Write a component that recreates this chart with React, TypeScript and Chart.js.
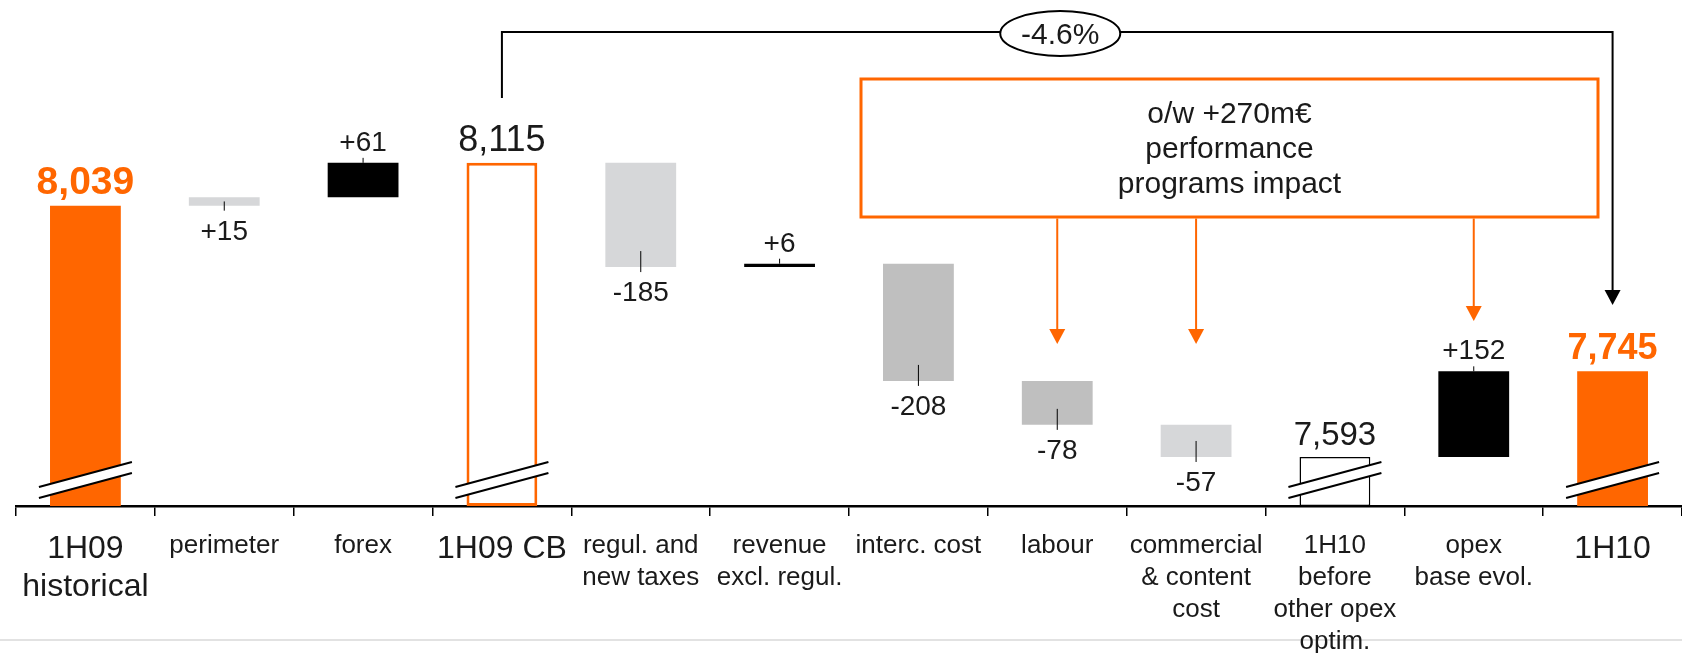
import React, { useEffect, useRef } from "react";
import { Chart, registerables } from "chart.js";

Chart.register(...registerables);

// ---------------- data ----------------
const categories: string[][] = [
  ["1H09", "historical"],
  ["perimeter"],
  ["forex"],
  ["1H09 CB"],
  ["regul. and", "new taxes"],
  ["revenue", "excl. regul."],
  ["interc. cost"],
  ["labour"],
  ["commercial", "& content", "cost"],
  ["1H10", "before", "other opex", "optim."],
  ["opex", "base evol."],
  ["1H10"],
];
const kinds: string[] = [
  "total", "delta", "delta", "total", "delta", "delta",
  "delta", "delta", "delta", "total", "delta", "total",
];
const values: number[] = [8039, 15, 61, 8115, -185, 6, -208, -78, -57, 7593, 152, 7745];
const labelSides: string[] = [
  "above", "below", "above", "above", "below", "above",
  "below", "below", "below", "above", "above", "above",
];
const brokenBars: number[] = [0, 3, 9, 11];
const programArrowTargets: number[] = [7, 8, 10];
const boxLines: string[] = ["o/w +270m€", "performance", "programs impact"];

// ---------------- styling ----------------
const ORANGE = "#FF6600";
const LIGHT = "#D6D7D9";
const MID = "#BFBFBF";
const TEXT = "#1a1a1a";
const FONT = '"Liberation Sans", Arial, Helvetica, sans-serif';
const Y_MIN = 7506;
const Y_MAX = 8404;

const fillColors = [ORANGE, LIGHT, "#000000", "#FFFFFF", LIGHT, "#000000", MID, MID, LIGHT, "#FFFFFF", "#000000", ORANGE];
const borderColors = [ORANGE, LIGHT, "#000000", ORANGE, LIGHT, "#000000", MID, MID, LIGHT, "#000000", "#000000", ORANGE];
const borderWidths = [0, 0, 0, 3, 0, 0, 0, 0, 0, 1.5, 0, 0];
const bigLabelIdx = [0, 3, 11];
const totalStyles: Record<number, { weight: string; size: number; color: string }> = {
  0: { weight: "bold", size: 39, color: ORANGE },
  3: { weight: "normal", size: 36, color: TEXT },
  9: { weight: "normal", size: 33, color: TEXT },
  11: { weight: "bold", size: 36, color: ORANGE },
};
const arrowTips: number[] = [344, 344, 321];

// floating ranges built from the values
const ranges: [number, number][] = [];
{
  let running = 0;
  values.forEach((v, i) => {
    if (kinds[i] === "total") {
      ranges.push([Y_MIN, v]);
      running = v;
    } else {
      const next = running + v;
      ranges.push([Math.min(running, next), Math.max(running, next)]);
      running = next;
    }
  });
}

const fmtTotal = (v: number) => v.toLocaleString("en-US");
const fmtDelta = (v: number) => (v > 0 ? "+" + v : String(v));

const decorPlugin = {
  id: "waterfallDecor",
  beforeDraw(chart: any) {
    const { ctx, width } = chart;
    ctx.save();
    ctx.fillStyle = "#E2E2E2";
    ctx.fillRect(0, 639, width, 2);
    ctx.restore();
  },
  afterDatasetsDraw(chart: any) {
    const ctx: CanvasRenderingContext2D = chart.ctx;
    const area = chart.chartArea;
    const meta = chart.getDatasetMeta(0);
    const geo = meta.data.map((el: any) => {
      const p = el.getProps(["x", "y", "base", "width"], true);
      return { x: p.x, top: Math.min(p.y, p.base), bottom: Math.max(p.y, p.base), w: p.width };
    });

    ctx.save();
    // axis break marks
    brokenBars.forEach((i) => {
      const cx = geo[i].x;
      const yb = area.bottom;
      const hw = 46.5;
      ctx.fillStyle = "#FFFFFF";
      ctx.beginPath();
      ctx.moveTo(cx - hw, yb - 19);
      ctx.lineTo(cx + hw, yb - 44);
      ctx.lineTo(cx + hw, yb - 33);
      ctx.lineTo(cx - hw, yb - 8);
      ctx.closePath();
      ctx.fill();
      ctx.strokeStyle = "#000";
      ctx.lineWidth = 2;
      ctx.beginPath();
      ctx.moveTo(cx - hw, yb - 19);
      ctx.lineTo(cx + hw, yb - 44);
      ctx.moveTo(cx - hw, yb - 8);
      ctx.lineTo(cx + hw, yb - 33);
      ctx.stroke();
    });

    // value labels
    ctx.textAlign = "center";
    ctx.textBaseline = "alphabetic";
    values.forEach((v, i) => {
      const g = geo[i];
      const isTotal = kinds[i] === "total";
      let text: string;
      if (isTotal) {
        const s = totalStyles[i];
        ctx.font = `${s.weight} ${s.size}px ${FONT}`;
        ctx.fillStyle = s.color;
        text = fmtTotal(v);
      } else {
        ctx.font = `normal 28px ${FONT}`;
        ctx.fillStyle = TEXT;
        text = fmtDelta(v);
      }
      ctx.strokeStyle = "#000";
      ctx.lineWidth = 1;
      if (labelSides[i] === "above") {
        if (!isTotal) {
          ctx.beginPath();
          ctx.moveTo(g.x, g.top - 5);
          ctx.lineTo(g.x, g.top);
          ctx.stroke();
        }
        ctx.fillText(text, g.x, g.top - 12);
      } else {
        ctx.beginPath();
        ctx.moveTo(g.x, g.bottom - Math.min(16, (g.bottom - g.top) / 2));
        ctx.lineTo(g.x, g.bottom + 5);
        ctx.stroke();
        ctx.fillText(text, g.x, g.bottom + 34);
      }
    });

    // connector 1H09 CB -> 1H10 with % change
    const xa = geo[3].x;
    const xb = geo[11].x;
    const yLine = 32;
    ctx.strokeStyle = "#000";
    ctx.lineWidth = 2;
    ctx.beginPath();
    ctx.moveTo(xa, 98);
    ctx.lineTo(xa, yLine);
    ctx.lineTo(xb, yLine);
    ctx.lineTo(xb, 291);
    ctx.stroke();
    ctx.fillStyle = "#000";
    ctx.beginPath();
    ctx.moveTo(xb - 8, 290);
    ctx.lineTo(xb + 8, 290);
    ctx.lineTo(xb, 305);
    ctx.closePath();
    ctx.fill();

    const ex = (xa + xb) / 2 + 3;
    ctx.beginPath();
    ctx.ellipse(ex, 33.5, 60, 22.5, 0, 0, Math.PI * 2);
    ctx.fillStyle = "#FFFFFF";
    ctx.fill();
    ctx.stroke();
    const pct = ((values[11] - values[3]) / values[3]) * 100;
    ctx.fillStyle = TEXT;
    ctx.font = `normal 30px ${FONT}`;
    ctx.fillText(pct.toFixed(1) + "%", ex, 44);

    // orange callout box
    const bx = 861, by = 79, bw = 737, bh = 138;
    ctx.fillStyle = "#FFFFFF";
    ctx.fillRect(bx, by, bw, bh);
    ctx.strokeStyle = ORANGE;
    ctx.lineWidth = 3;
    ctx.strokeRect(bx, by, bw, bh);
    ctx.fillStyle = TEXT;
    ctx.font = `normal 30px ${FONT}`;
    boxLines.forEach((line, k) => {
      ctx.fillText(line, bx + bw / 2, 123 + k * 35);
    });

    // orange arrows
    programArrowTargets.forEach((i, k) => {
      const x = geo[i].x;
      const tip = arrowTips[k];
      ctx.strokeStyle = ORANGE;
      ctx.lineWidth = 2;
      ctx.beginPath();
      ctx.moveTo(x, by + bh + 1.5);
      ctx.lineTo(x, tip - 14);
      ctx.stroke();
      ctx.fillStyle = ORANGE;
      ctx.beginPath();
      ctx.moveTo(x - 8, tip - 15);
      ctx.lineTo(x + 8, tip - 15);
      ctx.lineTo(x, tip);
      ctx.closePath();
      ctx.fill();
    });
    ctx.restore();
  },
};

export default function App() {
  const ref = useRef<HTMLCanvasElement>(null);

  useEffect(() => {
    const canvas = ref.current;
    if (!canvas) return;
    const chart = new Chart(canvas, {
      type: "bar",
      data: {
        labels: categories,
        datasets: [
          {
            data: ranges as any,
            backgroundColor: fillColors,
            borderColor: borderColors,
            borderWidth: borderWidths,
            borderSkipped: false,
            barPercentage: 0.51,
            categoryPercentage: 1,
          },
        ],
      },
      options: {
        animation: false,
        responsive: false,
        devicePixelRatio: 1,
        events: [],
        layout: { padding: { left: 16, right: 0, top: 0, bottom: 0 } },
        plugins: {
          legend: { display: false },
          tooltip: { enabled: false },
          title: { display: false },
        },
        scales: {
          x: {
            offset: true,
            grid: {
              display: true,
              offset: true,
              drawOnChartArea: false,
              drawTicks: true,
              tickLength: 10,
              color: "#000",
              lineWidth: 1.5,
            },
            border: { display: true, color: "#000", width: 2.5 },
            ticks: {
              autoSkip: false,
              maxRotation: 0,
              minRotation: 0,
              padding: 14,
              color: TEXT,
              font: (c: any) =>
                bigLabelIdx.includes(c.index)
                  ? { family: FONT, size: 32, lineHeight: 38 / 32 }
                  : { family: FONT, size: 26, lineHeight: 32 / 26 },
            },
            afterFit: (scale: any) => {
              scale.height = 147;
            },
          },
          y: {
            display: false,
            min: Y_MIN,
            max: Y_MAX,
          },
        },
      },
      plugins: [decorPlugin],
    });
    return () => chart.destroy();
  }, []);

  return (
    <div style={{ position: "absolute", left: 0, top: 0, width: 1682, height: 653, background: "#fff" }}>
      <canvas ref={ref} width={1682} height={653} style={{ display: "block", width: 1682, height: 653 }} />
    </div>
  );
}
